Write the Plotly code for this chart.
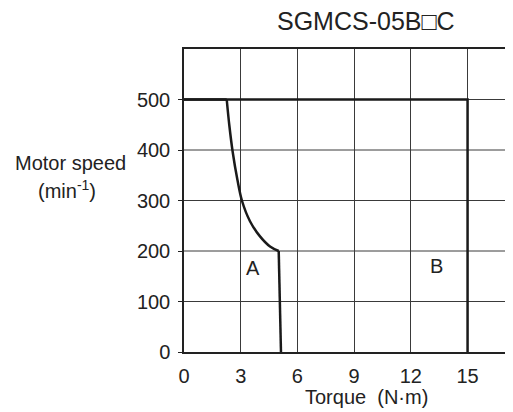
import plotly.graph_objects as go

# Data (torque N·m, speed min^-1)
a_flat_torque = [0, 2.26]
a_flat_speed = [500, 500]
a_curve_torque = [2.26, 2.40, 2.58, 2.82, 3.07, 3.49, 4.02, 4.55, 5.01]
a_curve_speed = [500, 448, 395, 342, 299, 259, 229, 209, 200]
a_drop_torque = [5.01, 5.13]
a_drop_speed = [200, 0]
curve_b_torque = [0, 15, 15]
curve_b_speed = [500, 500, 0]
x_ticks = [0, 3, 6, 9, 12, 15]
y_ticks = [0, 100, 200, 300, 400, 500]
y_grid = [100, 200, 300, 400, 500]
region_labels = ["A", "B"]
region_x = [3.67, 13.33]
region_y = [166, 170]

FONT = "Arial, Liberation Sans, Helvetica, sans-serif"
TXT = "#222222"
LINE = "#1a1a1a"

fig = go.Figure()
fig.add_trace(go.Scatter(x=a_flat_torque, y=a_flat_speed, mode="lines",
                         line=dict(color=LINE, width=2.5), hoverinfo="skip"))
fig.add_trace(go.Scatter(x=a_curve_torque, y=a_curve_speed, mode="lines",
                         line=dict(color=LINE, width=2.5, shape="spline", smoothing=1),
                         hoverinfo="skip"))
fig.add_trace(go.Scatter(x=a_drop_torque, y=a_drop_speed, mode="lines",
                         line=dict(color=LINE, width=2.5), hoverinfo="skip"))
fig.add_trace(go.Scatter(x=curve_b_torque, y=curve_b_speed, mode="lines",
                         line=dict(color=LINE, width=2.5), hoverinfo="skip"))

for lab, lx, ly in zip(region_labels, region_x, region_y):
    fig.add_annotation(x=lx, y=ly, text=lab, showarrow=False,
                       font=dict(family=FONT, size=20, color=TXT))

fig.add_annotation(xref="paper", yref="paper", x=0.555, y=1.091, text="SGMCS-05B□C",
                   showarrow=False, xanchor="center", yanchor="middle",
                   font=dict(family=FONT, size=25, color=TXT))
fig.add_annotation(xref="paper", yref="paper", x=-0.345, y=0.624, text="Motor speed",
                   showarrow=False, xanchor="center", yanchor="middle",
                   font=dict(family=FONT, size=20, color=TXT))
fig.add_annotation(xref="paper", yref="paper", x=-0.357, y=0.535, text="(min<sup>-1</sup>)",
                   showarrow=False, xanchor="center", yanchor="middle",
                   font=dict(family=FONT, size=20, color=TXT))
fig.add_annotation(xref="paper", yref="paper", x=0.555, y=-0.15, text="Torque  (N·m)",
                   showarrow=False, xanchor="center", yanchor="middle",
                   font=dict(family=FONT, size=20, color=TXT))

fig.update_layout(
    width=513, height=412,
    margin=dict(l=176, r=9, t=41, b=68),
    paper_bgcolor="white", plot_bgcolor="white",
    showlegend=False,
    font=dict(family=FONT, size=20, color=TXT),
)
fig.update_xaxes(range=[0, 17.35], tickvals=x_ticks, ticktext=[str(v) for v in x_ticks],
                 showgrid=True, gridcolor="#3a3a3a", gridwidth=1,
                 showline=True, linecolor="#222222", linewidth=1.5, mirror=True,
                 zeroline=False, ticks="", ticklabelstandoff=5, fixedrange=True,
                 tickfont=dict(family=FONT, size=20, color=TXT))
fig.update_yaxes(range=[0, 600], tickvals=y_ticks, ticktext=[str(v) for v in y_ticks],
                 showgrid=False, showline=True, linecolor="#222222", linewidth=1.5,
                 zeroline=False, ticks="outside", ticklen=4, tickcolor="#222222",
                 ticklabelstandoff=4, fixedrange=True,
                 tickfont=dict(family=FONT, size=20, color=TXT))
for gy in y_grid:
    fig.add_shape(type="line", xref="paper", yref="y", x0=0, x1=1, y0=gy, y1=gy,
                  line=dict(color="#3a3a3a", width=1), layer="below")

fig.write_html("out.html")
